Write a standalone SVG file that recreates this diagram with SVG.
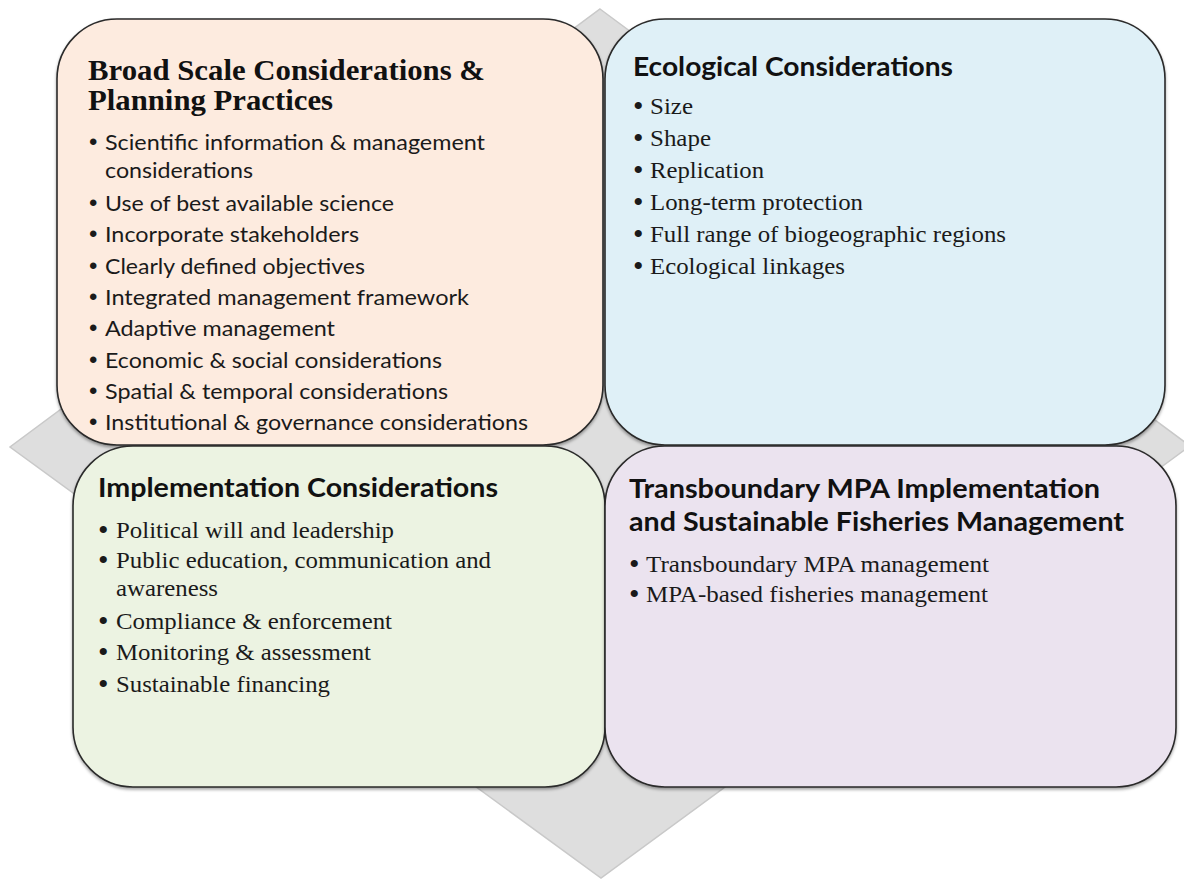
<svg xmlns="http://www.w3.org/2000/svg" width="1184" height="880" viewBox="0 0 1184 880">
  <defs>
    <filter id="boxShadow" x="-5%" y="-5%" width="110%" height="115%">
      <feDropShadow dx="0" dy="2" stdDeviation="1.6" flood-color="#000" flood-opacity="0.35"/>
    </filter>
    <filter id="soft" x="-2%" y="-2%" width="104%" height="104%">
      <feGaussianBlur stdDeviation="0.6"/>
    </filter>
  </defs>
  <style>
    .box { stroke: #2a2a2a; stroke-width: 1.6; filter: url(#boxShadow); }
    .serifTitle { font-family: "Liberation Serif", "Times New Roman", serif; font-weight: bold; font-size: 29px; fill: #111; }
    .sansTitle { font-family: Lato, "Liberation Sans", sans-serif; font-weight: bold; font-size: 26px; fill: #111; }
    .sansItem { font-family: Lato, "Liberation Sans", sans-serif; font-size: 21.5px; fill: #1a1a1a; }
    .serifItem { font-family: "Liberation Serif", "Times New Roman", serif; font-size: 24px; fill: #1a1a1a; }
    .dot { font-family: "Liberation Serif", "Times New Roman", serif; font-size: 30px; fill: #1a1a1a; }
    .sdot { font-family: "Liberation Sans", Arial, sans-serif; font-size: 24px; fill: #1a1a1a; }
  </style>

  <rect width="1184" height="880" fill="#ffffff"/>

  <!-- grey backdrop diamond -->
  <g id="backdrop">
    <polygon points="600,9 1190,446 601,878 10,447" fill="#dedede" stroke="#c9c9c9" stroke-width="1.5" filter="url(#soft)"/>
  </g>

  <!-- top-left: broad scale -->
  <g id="broad-scale">
    <rect class="box" x="57" y="19" width="546" height="426" rx="60" ry="60" fill="#fdebdf"/>
    <text class="serifTitle" x="88" y="80" textLength="397" lengthAdjust="spacingAndGlyphs">Broad Scale Considerations &amp;</text>
    <text class="serifTitle" x="88" y="110" textLength="245" lengthAdjust="spacingAndGlyphs">Planning Practices</text>
    <g class="sdot">
      <text x="89" y="150">•</text>
      <text x="89" y="211">•</text>
      <text x="89" y="242">•</text>
      <text x="89" y="274">•</text>
      <text x="89" y="305">•</text>
      <text x="89" y="336">•</text>
      <text x="89" y="368">•</text>
      <text x="89" y="399">•</text>
      <text x="89" y="430">•</text>
    </g>
    <g class="sansItem">
      <text x="105" y="150" textLength="380" lengthAdjust="spacingAndGlyphs">Scientific information &amp; management</text>
      <text x="105" y="178" textLength="148" lengthAdjust="spacingAndGlyphs">considerations</text>
      <text x="105" y="211" textLength="289" lengthAdjust="spacingAndGlyphs">Use of best available science</text>
      <text x="105" y="242" textLength="254" lengthAdjust="spacingAndGlyphs">Incorporate stakeholders</text>
      <text x="105" y="274" textLength="260" lengthAdjust="spacingAndGlyphs">Clearly defined objectives</text>
      <text x="105" y="305" textLength="364" lengthAdjust="spacingAndGlyphs">Integrated management framework</text>
      <text x="105" y="336" textLength="230" lengthAdjust="spacingAndGlyphs">Adaptive management</text>
      <text x="105" y="368" textLength="337" lengthAdjust="spacingAndGlyphs">Economic &amp; social considerations</text>
      <text x="105" y="399" textLength="343" lengthAdjust="spacingAndGlyphs">Spatial &amp; temporal considerations</text>
      <text x="105" y="430" textLength="423" lengthAdjust="spacingAndGlyphs">Institutional &amp; governance considerations</text>
    </g>
  </g>

  <!-- top-right: ecological -->
  <g id="ecological">
    <rect class="box" x="605" y="19" width="560" height="426" rx="60" ry="60" fill="#dff0f7"/>
    <text class="sansTitle" x="633" y="76" textLength="320" lengthAdjust="spacingAndGlyphs">Ecological Considerations</text>
    <g class="dot">
      <text x="633" y="116">•</text>
      <text x="633" y="148">•</text>
      <text x="633" y="180">•</text>
      <text x="633" y="212">•</text>
      <text x="633" y="244">•</text>
      <text x="633" y="276">•</text>
    </g>
    <g class="serifItem">
      <text x="650" y="114" textLength="43" lengthAdjust="spacingAndGlyphs">Size</text>
      <text x="650" y="146" textLength="61" lengthAdjust="spacingAndGlyphs">Shape</text>
      <text x="650" y="178" textLength="114" lengthAdjust="spacingAndGlyphs">Replication</text>
      <text x="650" y="210" textLength="213" lengthAdjust="spacingAndGlyphs">Long-term protection</text>
      <text x="650" y="242" textLength="356" lengthAdjust="spacingAndGlyphs">Full range of biogeographic regions</text>
      <text x="650" y="274" textLength="195" lengthAdjust="spacingAndGlyphs">Ecological linkages</text>
    </g>
  </g>

  <!-- bottom-left: implementation -->
  <g id="implementation">
    <rect class="box" x="73" y="446" width="532" height="341" rx="60" ry="60" fill="#ecf3e2"/>
    <text class="sansTitle" x="98" y="497" textLength="400" lengthAdjust="spacingAndGlyphs">Implementation Considerations</text>
    <g class="dot">
      <text x="98" y="540">•</text>
      <text x="98" y="570">•</text>
      <text x="98" y="631">•</text>
      <text x="98" y="662">•</text>
      <text x="98" y="694">•</text>
    </g>
    <g class="serifItem">
      <text x="116" y="538" textLength="278" lengthAdjust="spacingAndGlyphs">Political will and leadership</text>
      <text x="116" y="568" textLength="375" lengthAdjust="spacingAndGlyphs">Public education, communication and</text>
      <text x="116" y="596" textLength="102" lengthAdjust="spacingAndGlyphs">awareness</text>
      <text x="116" y="629" textLength="276" lengthAdjust="spacingAndGlyphs">Compliance &amp; enforcement</text>
      <text x="116" y="660" textLength="255" lengthAdjust="spacingAndGlyphs">Monitoring &amp; assessment</text>
      <text x="116" y="692" textLength="214" lengthAdjust="spacingAndGlyphs">Sustainable financing</text>
    </g>
  </g>

  <!-- bottom-right: transboundary -->
  <g id="transboundary">
    <rect class="box" x="605" y="446" width="571" height="341" rx="60" ry="60" fill="#ebe3ef"/>
    <text class="sansTitle" x="629" y="498" textLength="471" lengthAdjust="spacingAndGlyphs">Transboundary MPA Implementation</text>
    <text class="sansTitle" x="629" y="531" textLength="495" lengthAdjust="spacingAndGlyphs">and Sustainable Fisheries Management</text>
    <g class="dot">
      <text x="629" y="574">•</text>
      <text x="629" y="604">•</text>
    </g>
    <g class="serifItem">
      <text x="646" y="572" textLength="343" lengthAdjust="spacingAndGlyphs">Transboundary MPA management</text>
      <text x="646" y="602" textLength="342" lengthAdjust="spacingAndGlyphs">MPA-based fisheries management</text>
    </g>
  </g>
</svg>
